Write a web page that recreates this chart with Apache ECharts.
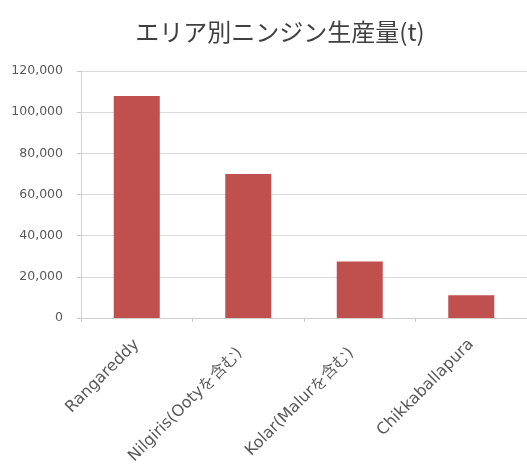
<!DOCTYPE html>
<html>
<head>
<meta charset="utf-8">
<style>
  html, body { margin: 0; padding: 0; background: #ffffff; }
  #chart { width: 527px; height: 468px; }
</style>
<script src="https://cdn.jsdelivr.net/npm/echarts@6/dist/echarts.min.js"></script>
</head>
<body>
<div id="chart"></div>
<script>
// Carrot production by area (tonnes)
const titleText = 'エリア別ニンジン生産量(t)';
const areas = ['Rangareddy', 'Nilgiris(Ootyを含む)', 'Kolar(Malurを含む)', 'Chikkaballapura'];
const production = [107800, 69900, 27500, 11000];
const yTicks = { min: 0, max: 120000, interval: 20000 };

const chart = echarts.init(document.getElementById('chart'), null, { renderer: 'canvas' });

// Labels with bracketed notes sit a little further from the axis
const categoryItems = areas.map(name => (
  name.includes('(')
    ? { value: name, textStyle: { padding: [0, 12, 0, 0] } }
    : name
));

chart.setOption({
  animation: false,
  backgroundColor: '#ffffff',
  title: {
    text: titleText,
    left: 275,
    top: 15,
    textAlign: 'center',
    textStyle: {
      fontFamily: '"Noto Sans CJK JP", sans-serif',
      fontSize: 24,
      fontWeight: 'normal',
      color: '#404040'
    }
  },
  grid: {
    left: 81,
    top: 71,
    width: 458,
    height: 247,
    containLabel: false
  },
  xAxis: {
    type: 'category',
    data: categoryItems,
    axisLine: { show: true, lineStyle: { color: '#d0d0d0', width: 1 } },
    axisTick: { show: true, alignWithLabel: false, length: 4, lineStyle: { color: '#c8c8c8' } },
    axisLabel: {
      interval: 0,
      rotate: 45,
      margin: 24,
      color: '#595959',
      fontFamily: '"DejaVu Sans", sans-serif',
      fontSize: 16
    }
  },
  yAxis: {
    type: 'value',
    min: yTicks.min,
    max: yTicks.max,
    interval: yTicks.interval,
    axisLine: { show: true, lineStyle: { color: '#d0d0d0', width: 1 } },
    axisTick: { show: true, length: 4, lineStyle: { color: '#c8c8c8' } },
    splitLine: { show: true, lineStyle: { color: '#d9d9d9', width: 1 } },
    axisLabel: {
      margin: 18,
      color: '#595959',
      fontFamily: '"DejaVu Sans", sans-serif',
      fontSize: 12.5,
      formatter: v => v.toLocaleString('en-US')
    }
  },
  series: [{
    type: 'bar',
    data: production,
    barWidth: 46,
    itemStyle: { color: '#c0504d' }
  }]
});
</script>
</body>
</html>
